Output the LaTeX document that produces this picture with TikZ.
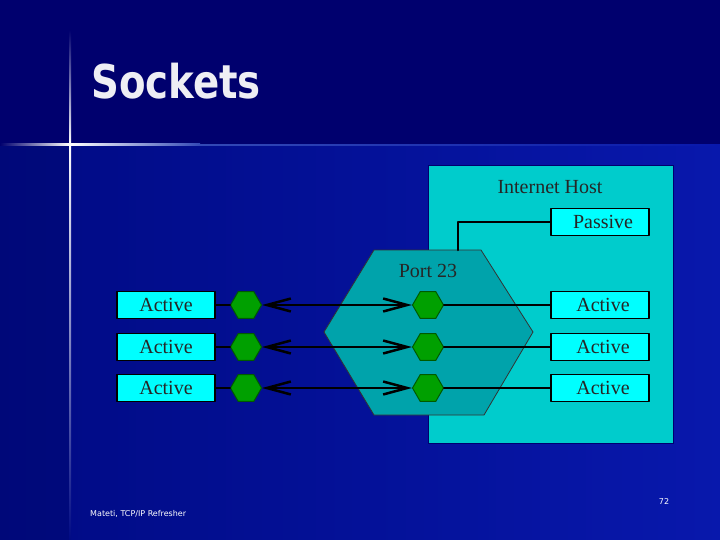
\documentclass[tikz,border=0pt]{standalone}
\usepackage{fontspec}
\setmainfont{Liberation Serif}
\newfontfamily\titlefont[FakeStretch=0.83]{DejaVu Sans}
\newfontfamily\footfont{DejaVu Sans}
\usetikzlibrary{arrows.meta,shapes.geometric}
\definecolor{slidetop}{HTML}{00006E}
\definecolor{slidelo}{HTML}{000A84}
\definecolor{slidehi}{HTML}{0818AC}
\definecolor{flare}{HTML}{7FA8FF}
\definecolor{hostcyan}{HTML}{00CCCC}
\definecolor{portteal}{HTML}{00A3AB}
\definecolor{boxcyan}{HTML}{00FFFF}
\definecolor{sockgreen}{HTML}{00A000}
\definecolor{sockedge}{HTML}{005A00}
\definecolor{titlewhite}{HTML}{EEEEF4}
\newcommand{\diafont}{\fontsize{20}{24}\selectfont}
\tikzset{
  sockbox/.style={draw=black,line width=1.8pt,fill=boxcyan,minimum width=98pt,minimum height=27pt,inner sep=0pt,font=\diafont,text=black!85},
  sockhex/.style={regular polygon,regular polygon sides=6,draw=sockedge,line width=1pt,fill=sockgreen,minimum size=31pt,inner sep=0pt},
  wire/.style={black,line width=2.5pt}
}
\begin{document}
\begin{tikzpicture}[x=1pt,y=-1pt,line cap=round,line join=round,>={Straight Barb[length=24pt,width=13pt]}]
    \useasboundingbox (0,0) rectangle (720,540);

    % Slide background
    \fill[slidetop] (0,0) rectangle (720,145);
    \shade[left color=slidelo,right color=slidehi] (0,145) rectangle (720,540);
    \fill[slidelo!85!black,opacity=0.5] (0,145) rectangle (70,540);

    % Flare
    \shade[left color=slidetop,right color=white] (0,144) rectangle (70,146);
    \shade[left color=white,right color=flare!40!slidelo] (70,144) rectangle (200,146);
    \shade[left color=flare!40!slidelo,right color=slidehi] (200,144.5) rectangle (720,145.5);
    \shade[top color=slidetop,bottom color=white] (69,30) rectangle (71,145);
    \shade[top color=white,bottom color=slidelo] (69,145) rectangle (71,540);
    \fill[white] (70,145) circle (1.5);

    % Title
    \node[anchor=base west,inner sep=0pt,text=titlewhite,font=\titlefont\bfseries\fontsize{46.6}{50}\selectfont] (title) at (91,99) {Sockets};

    % Host and port
    \draw[draw=slidetop,line width=1pt,fill=hostcyan] (428,166) rectangle (673,443);
    \node[font=\diafont,text=black!85] (host) at (550,187) {Internet Host};
    \draw[draw=black!80,line width=0.8pt,fill=portteal] (374,250) -- (481,250) -- (533,332) -- (484,415) -- (374,415) -- (324,332) -- cycle;
    \coordinate (porttop) at (458,250);
    \node[font=\diafont,text=black!85] (port) at (428,271) {Port 23};

    % Passive socket
    \node[sockbox] (P) at (600,222) {\hspace{6pt}Passive};
    \draw[wire] (P.west) -| (porttop);

    % Active sockets
    \foreach \i/\y in {1/305,2/347,3/388} {
        \node[sockbox] (AL\i) at (166,\y) {Active};
        \node[sockbox] (AR\i) at (600,\y) {\hspace{6pt}Active};
        \node[sockhex] (SL\i) at (246,\y) {};
        \node[sockhex] (SR\i) at (428,\y) {};
        \draw[wire] (AL\i) -- (SL\i);
        \draw[wire,<->] (SL\i) -- (SR\i);
        \draw[wire] (SR\i) -- (AR\i);
    }

    % Footer
    \node[anchor=west,inner sep=0pt,text=white,font=\footfont\fontsize{8}{10}\selectfont] (foot) at (90,514) {Mateti, TCP/IP Refresher};
    \node[inner sep=0pt,text=white,font=\footfont\fontsize{8}{10}\selectfont] (page) at (664,502) {72};
\end{tikzpicture}
\end{document}
